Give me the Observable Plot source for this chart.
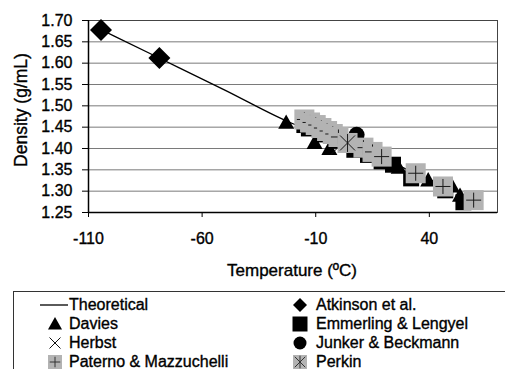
<!DOCTYPE html>
<html><head><meta charset="utf-8">
<script src="https://cdn.jsdelivr.net/npm/d3@7"></script>
<script src="https://cdn.jsdelivr.net/npm/@observablehq/plot@0.6"></script>
<style>
html,body{margin:0;padding:0;background:#fff;}
body{width:505px;height:369px;overflow:hidden;position:relative;font-family:"Liberation Sans",Arial,sans-serif;}
#chart{position:absolute;left:0;top:0;}
#chart svg text{stroke:#000;stroke-width:0.35px;}
.ttl{position:absolute;font-size:17px;line-height:1;white-space:nowrap;color:#000;-webkit-text-stroke:0.35px #000;}
#xt{left:292px;top:270px;transform:translate(-50%,-50%);}
#yt{left:22px;top:110px;font-size:17.5px;transform:translate(-50%,-50%) rotate(-90deg);}
#legend{position:absolute;left:13px;top:291px;width:520px;height:100px;border:1px solid #333;box-sizing:border-box;background:#fff;}
.lg-t{position:absolute;font-size:16px;line-height:1;transform:translateY(-50%);white-space:nowrap;color:#000;-webkit-text-stroke:0.35px #000;}
.lg-s{position:absolute;overflow:visible;}
</style></head><body>
<div id="chart"></div>
<div class="ttl" id="xt">Temperature (ºC)</div>
<div class="ttl" id="yt">Density (g/mL)</div>
<div id="legend"></div>
<script>
// ---- axes ----
const xTicks = [-110, -60, -10, 40];
const yTicks = [1.25, 1.30, 1.35, 1.40, 1.45, 1.50, 1.55, 1.60, 1.65, 1.70];
const xDomain = [-110, 70];
const yDomain = [1.25, 1.70];

// ---- series (temperature °C, density g/mL) ----
const theoT = [-105, -80, -50, -20, 0, 20, 40, 60];
const theoD = [1.680, 1.615, 1.537, 1.458, 1.420, 1.375, 1.328, 1.280];

const atkT = [-104.5, -78.8];
const atkD = [1.678, 1.612];

const davT = [-23, -10.5, -4, 26.5, 39.5, 50, 53.5];
const davD = [1.461, 1.414, 1.400, 1.356, 1.326, 1.312, 1.290];

const emmT = [-15, -13, -7, -1, 7, 13, 19, 24, 32, 47, 55];
const emmD = [1.455, 1.447, 1.433, 1.418, 1.397, 1.385, 1.370, 1.362, 1.330, 1.302, 1.274];

const herT = [2];
const herD = [1.414];

const junT = [8];
const junD = [1.432];

const patT = [-15, -12.5, -10, -7.5, -5, -2.5, 0, 11, 15, 19, 34, 46, 59.5];
const patD = [1.468, 1.461, 1.455, 1.448, 1.441, 1.434, 1.427, 1.402, 1.392, 1.381, 1.342, 1.311, 1.279];

const perT = [4];
const perD = [1.413];

const seriesNames = ["Theoretical", "Atkinson et al.", "Davies", "Emmerling & Lengyel",
  "Herbst", "Junker & Beckmann", "Paterno & Mazzuchelli", "Perkin"];

const pts = (T, D) => T.map((t, i) => ({t, d: D[i]}));

// ---- Excel-like marker shapes (r = half width) ----
const R = s => Math.sqrt(s / Math.PI);
const symDiamond = {draw(c, s){const r=R(s); c.moveTo(0,-r); c.lineTo(r,0); c.lineTo(0,r); c.lineTo(-r,0); c.closePath();}};
const symSquare = {draw(c, s){const r=R(s); c.moveTo(-r,-r); c.lineTo(r,-r); c.lineTo(r,r); c.lineTo(-r,r); c.closePath();}};
const symTriangle = {draw(c, s){const r=R(s); c.moveTo(0,-r); c.lineTo(r,0.8*r); c.lineTo(-r,0.8*r); c.closePath();}};
const symCircle = {draw(c, s){const r=R(s); c.moveTo(r,0); c.arc(0,0,r,0,2*Math.PI); c.closePath();}};
const symPlus = {draw(c, s){const r=R(s); c.moveTo(-r,0); c.lineTo(r,0); c.moveTo(0,-r); c.lineTo(0,r);}};
const symTimes = {draw(c, s){const r=R(s); c.moveTo(-r,-r); c.lineTo(r,r); c.moveTo(r,-r); c.lineTo(-r,r);}};
const symAster = {draw(c, s){const r=R(s); c.moveTo(-r,-r); c.lineTo(r,r); c.moveTo(r,-r); c.lineTo(-r,r); c.moveTo(0,-r*1.2); c.lineTo(0,r*1.2);}};

const GRAY = "#b3b3b3";
const xy = {x: "t", y: "d"};

const patMarks = pts(patT, patD).flatMap(p => [
  Plot.dot([p], {...xy, symbol: symSquare, r: 10, fill: GRAY, stroke: "none"}),
  Plot.dot([p], {...xy, symbol: symPlus, r: 7.5, fill: "none", stroke: "#1a1a1a", strokeWidth: 1})
]);
const perMarks = pts(perT, perD).flatMap(p => [
  Plot.dot([p], {...xy, symbol: symSquare, r: 10, fill: GRAY, stroke: "none"}),
  Plot.dot([p], {...xy, symbol: symAster, r: 7.5, fill: "none", stroke: "#1a1a1a", strokeWidth: 1})
]);

const chart = Plot.plot({
  width: 505, height: 285,
  marginLeft: 88, marginRight: 8, marginTop: 20, marginBottom: 73,
  x: {domain: xDomain},
  y: {domain: yDomain},
  style: {fontFamily: '"Liberation Sans", Arial, sans-serif', fontSize: "16px", background: "white", color: "black", overflow: "visible"},
  marks: [
    Plot.gridY(yTicks, {stroke: "#7a7a7a", strokeOpacity: 1, strokeWidth: 1}),
    Plot.frame({stroke: "#444", strokeWidth: 1}),
    Plot.ruleX([xDomain[0]], {stroke: "#000", strokeWidth: 1.5}),
    Plot.ruleY([yDomain[0]], {stroke: "#000", strokeWidth: 1.5}),
    Plot.axisY({ticks: yTicks, tickFormat: d3.format(".2f"), tickSize: 6, tickPadding: 10, label: null, fontSize: 16}),
    Plot.axisX({ticks: xTicks, tickFormat: d => String(d), tickSize: 5, tickPadding: 15, label: null, fontSize: 16}),
    Plot.line(pts(theoT, theoD), {...xy, stroke: "black", strokeWidth: 1.3, curve: "monotone-x"}),
    Plot.dot(pts(atkT, atkD), {...xy, symbol: symDiamond, r: 11, fill: "black", stroke: "none"}),
    Plot.dot(pts(davT, davD), {...xy, symbol: symTriangle, r: 8, fill: "black", stroke: "none"}),
    Plot.dot(pts(emmT, emmD), {...xy, symbol: symSquare, r: 8, fill: "black", stroke: "none"}),
    Plot.dot(pts(herT, herD), {...xy, symbol: symTimes, r: 12, fill: "none", stroke: "#111", strokeWidth: 1}),
    Plot.dot(pts(junT, junD), {...xy, symbol: symCircle, r: 8, fill: "black", stroke: "none"}),
    ...patMarks,
    ...perMarks
  ]
});
document.getElementById("chart").appendChild(chart);

// ---- legend ----
const legend = d3.select("#legend");
const rowY = [13, 32, 51, 70];
const colSym = [41, 286], colText = [55, 302];
const legendSym = [
  {type: "line"},
  {type: symDiamond, r: 7, fill: "black"},
  {type: symTriangle, r: 7, fill: "black"},
  {type: symSquare, r: 7.5, fill: "black"},
  {type: symTimes, r: 5.5, stroke: "#111"},
  {type: symCircle, r: 6.5, fill: "black"},
  {type: symSquare, r: 7, fill: GRAY, over: symPlus},
  {type: symSquare, r: 7, fill: GRAY, over: symAster}
];
seriesNames.forEach((name, i) => {
  const col = i % 2, row = Math.floor(i / 2);
  const cx = colSym[col], cy = rowY[row];
  const svg = legend.append("svg").attr("class", "lg-s")
    .attr("width", 30).attr("height", 20)
    .style("left", (cx - 15) + "px").style("top", (cy - 10) + "px");
  const g = svg.append("g").attr("transform", "translate(15,10)");
  const s = legendSym[i];
  if (s.type === "line") {
    g.append("line").attr("x1", -15).attr("x2", 13).attr("stroke", "black").attr("stroke-width", 1.3);
  } else {
    const size = Math.PI * s.r * s.r;
    g.append("path").attr("d", d3.symbol(s.type, size)())
      .attr("fill", s.fill || "none").attr("stroke", s.stroke || "none").attr("stroke-width", 1);
    if (s.over) {
      const sz2 = Math.PI * (s.r * 0.75) ** 2;
      g.append("path").attr("d", d3.symbol(s.over, sz2)()).attr("fill", "none").attr("stroke", "#333").attr("stroke-width", 1);
    }
  }
  legend.append("div").attr("class", "lg-t")
    .style("left", colText[col] + "px").style("top", cy + "px").text(name);
});
</script>
</body></html>
